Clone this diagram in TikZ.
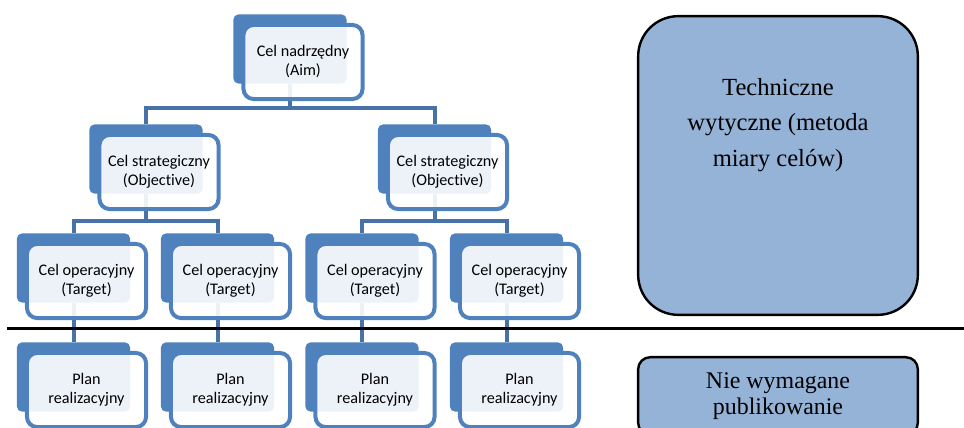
\documentclass[tikz,border=0pt]{standalone}
\usepackage{fontspec}
\setmainfont{Liberation Serif}
\newfontfamily\calibri[Ligatures=NoCommon]{Carlito}
\usepackage{tikz}
\usetikzlibrary{shapes,arrows,positioning}
\definecolor{backblue}{HTML}{4F81BD}
\definecolor{linkblue}{HTML}{4672A8}
\definecolor{sideblue}{HTML}{95B3D7}

\begin{document}
\begin{tikzpicture}[x=0.025cm, y=-0.025cm, align=center]
    \tikzset{
        back/.style     =   { rectangle
                            , rounded corners=0.12cm
                            , fill=backblue
                            , inner sep=0pt
                            , minimum width=2.825cm
                            , minimum height=1.725cm
        }
        , front/.style  =   { rectangle
                            , rounded corners=0.25cm
                            , draw=backblue
                            , line width=0.1cm
                            , fill=white
                            , fill opacity=0.9
                            , text opacity=1
                            , inner sep=0pt
                            , minimum width=2.975cm
                            , minimum height=1.85cm
                            , font=\calibri\fontsize{11.5}{13.5}\selectfont
        }
        , link/.style   =   { draw=linkblue
                            , line width=0.1cm
        }
        , side/.style   =   { rectangle
                            , draw=black
                            , line width=0.06cm
                            , fill=sideblue
                            , minimum width=6.99cm
        }
    }
    \useasboundingbox (0,0) rectangle (964,427);
    \clip (0,0) rectangle (964,427);

    % back boxes
    \node(aimb)  [back] at (290,49)    {};
    \node(obj1b) [back] at (146,159)   {};
    \node(obj2b) [back] at (434.5,159) {};
    \node(tar1b) [back] at (73.5,268)  {};
    \node(tar2b) [back] at (217.5,268) {};
    \node(tar3b) [back] at (362,268)   {};
    \node(tar4b) [back] at (506.5,268) {};
    \node(pln1b) [back] at (73.5,377)  {};
    \node(pln2b) [back] at (217.5,377) {};
    \node(pln3b) [back] at (362,377)   {};
    \node(pln4b) [back] at (506.5,377) {};

    \draw[link] (aimb.south)  -- ++(0,24)   -| (obj1b.north);
    \draw[link] (aimb.south)  -- ++(0,24)   -| (obj2b.north);
    \draw[link] (obj1b.south) -- ++(0,27.5) -| (tar1b.north);
    \draw[link] (obj1b.south) -- ++(0,27.5) -| (tar2b.north);
    \draw[link] (obj2b.south) -- ++(0,27.5) -| (tar3b.north);
    \draw[link] (obj2b.south) -- ++(0,27.5) -| (tar4b.north);
    \draw[link] (tar1b.south) -- (pln1b.north);
    \draw[link] (tar2b.south) -- (pln2b.north);
    \draw[link] (tar3b.south) -- (pln3b.north);
    \draw[link] (tar4b.south) -- (pln4b.north);

    % front boxes
    \node(aim)  [front] at ([shift={(13,13)}]aimb)  {Cel nadrzędny\\(Aim)};
    \node(obj1) [front] at ([shift={(13,13)}]obj1b) {Cel strategiczny\\(Objective)};
    \node(obj2) [front] at ([shift={(13,13)}]obj2b) {Cel strategiczny\\(Objective)};
    \node(tar1) [front] at ([shift={(13,13)}]tar1b) {Cel operacyjny\\(Target)};
    \node(tar2) [front] at ([shift={(13,13)}]tar2b) {Cel operacyjny\\(Target)};
    \node(tar3) [front] at ([shift={(13,13)}]tar3b) {Cel operacyjny\\(Target)};
    \node(tar4) [front] at ([shift={(13,13)}]tar4b) {Cel operacyjny\\(Target)};
    \node(pln1) [front] at ([shift={(13,13)}]pln1b) {Plan\\realizacyjny};
    \node(pln2) [front] at ([shift={(13,13)}]pln2b) {Plan\\realizacyjny};
    \node(pln3) [front] at ([shift={(13,13)}]pln3b) {Plan\\realizacyjny};
    \node(pln4) [front] at ([shift={(13,13)}]pln4b) {Plan\\realizacyjny};

    % right side
    \node(tech)  [side, rounded corners=1cm, minimum height=7.465cm] at (778,165.5) {};
    \node(techt) [font=\fontsize{17.5}{25}\selectfont] at (778,125)
        {Techniczne\\wytyczne (metoda\\miary celów)};
    \node(publ)  [side, rounded corners=0.3cm, minimum height=1.94cm,
                  font=\fontsize{17}{19}\selectfont] at (778,396)
        {Nie wymagane\\publikowanie};

    \coordinate(cutl) at (7,328.5);
    \coordinate(cutr) at (964,328.5);
    \draw[line width=0.075cm] (cutl) -- (cutr);
\end{tikzpicture}
\end{document}
